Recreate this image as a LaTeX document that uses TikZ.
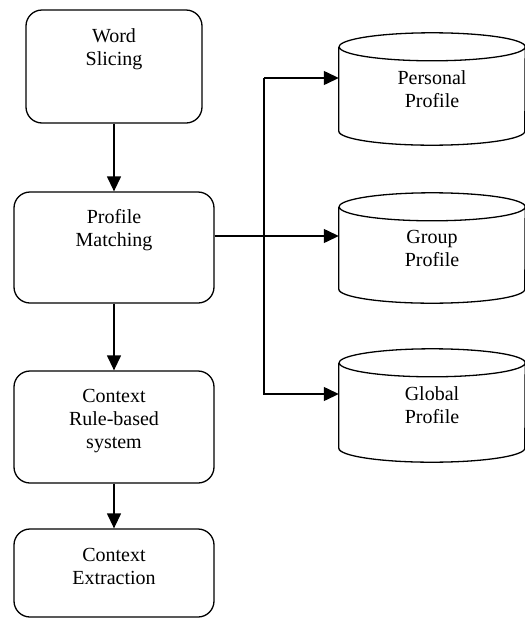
\documentclass[tikz,border=0pt]{standalone}
\usepackage{fontspec}
\setmainfont{Liberation Serif}
\usetikzlibrary{arrows.meta}
\tikzset{
  line/.style={line width=1.3pt},
  box/.style={line, draw, rounded corners=16pt, inner sep=0pt},
  txt/.style={align=center, inner sep=0pt, font=\fontsize{20}{23}\selectfont},
  cylnode/.style={inner sep=0pt, minimum width=186pt, align=center, font=\fontsize{20}{23}\selectfont},
  arr/.style={line, -{Triangle[width=14pt,length=15pt]}},
}
\newcommand{\cyldraw}[1]{%
  \draw[line] ([yshift=-14pt]#1.north west) -- ([yshift=14pt]#1.south west)
    arc[start angle=180, end angle=360, x radius=93pt, y radius=14pt]
    -- ([yshift=-14pt]#1.north east)
    arc[start angle=0, end angle=360, x radius=93pt, y radius=14pt];}
\begin{document}
\begin{tikzpicture}[x=1pt, y=-1pt]
\useasboundingbox (0,0) rectangle (525,619);
% left boxes
\node[box, minimum width=176pt, minimum height=113pt] (ws) at (114,66.5) {};
\node[txt] (wst) at (114,49) {Word\\Slicing};
\node[box, minimum width=200pt, minimum height=111pt] (pm) at (114,247.5) {};
\node[txt] (pmt) at (114,230) {Profile\\Matching};
\node[box, minimum width=200pt, minimum height=112pt] (cr) at (114,427) {};
\node[txt] (crt) at (114,421) {Context\\Rule-based\\system};
\node[box, minimum width=200pt, minimum height=88pt] (ce) at (114,573) {};
\node[txt] (cet) at (114,566) {Context\\Extraction};
% cylinders
\node[cylnode, minimum height=112pt] (pp) at (432,89) {Personal\\Profile};
\cyldraw{pp}
\node[cylnode, minimum height=110pt] (gp) at (432,248) {Group\\Profile};
\cyldraw{gp}
\node[cylnode, minimum height=113pt] (gl) at (432,405.5) {Global\\Profile};
\cyldraw{gl}
% connectors
\draw[arr] (ws) -- (pm);
\draw[arr] (pm) -- (cr);
\draw[arr] (cr) -- (ce);
\coordinate (jtop) at (264,78);
\coordinate (jbot) at (264,394);
\draw[arr] (pm.east |- 0,236) -- (gp.west |- 0,236);
\draw[arr] (jtop) -- (pp.west |- jtop);
\draw[arr] (jtop) -- (jbot) -- (gl.west |- jbot);
\end{tikzpicture}
\end{document}
